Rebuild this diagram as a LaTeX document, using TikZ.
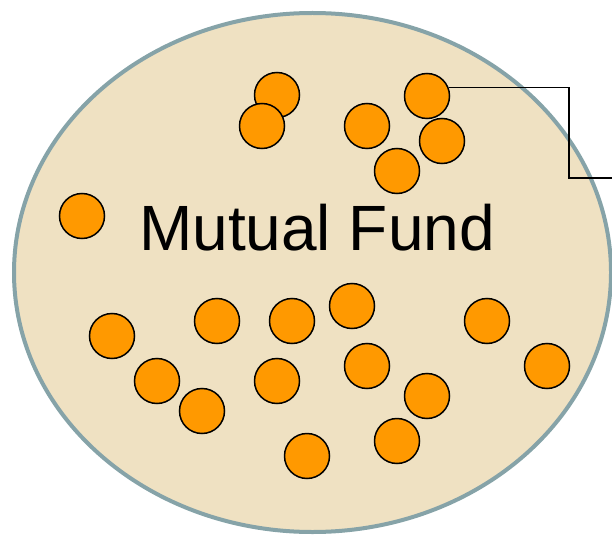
\documentclass[tikz,border=0pt]{standalone}
\usepackage{fontspec}
\setmainfont{Liberation Sans}
\usepackage{tikz}
\usetikzlibrary{
  	shapes.geometric,
  	positioning,
  	calc
  }
\definecolor{sand}{RGB}{239,225,194}
\definecolor{rim}{RGB}{134,163,168}
\definecolor{coin}{RGB}{255,153,0}

\begin{document}
\begin{tikzpicture}[x=1pt, y=-1pt,
	stock/.style={circle, draw=black, line width=1.5pt, fill=coin, minimum size=45pt, inner sep=0pt}]
	\useasboundingbox (0,0) rectangle (612,537);
	\node[ellipse, draw=rim, line width=4pt, fill=sand, minimum width=597pt, minimum height=519pt] (fund) at (312.5,272.5) {};
	\node[anchor=base, font=\fontsize{64}{70}\selectfont] (Flab) at (317,250) {Mutual Fund};
%
	\node[stock] (Sa) at (277,95) {};
	\node[stock] (Sb) at (262,126) {};
	\node[stock] (Sc) at (367,126) {};
	\node[stock] (Sd) at (427,96) {};
	\node[stock] (Se) at (442,141) {};
	\node[stock] (Sf) at (397,171) {};
	\node[stock] (Sg) at (82,216) {};
%
	\node[stock] (Sh) at (112,336) {};
	\node[stock] (Si) at (217,321) {};
	\node[stock] (Sj) at (292,321) {};
	\node[stock] (Sk) at (352,306) {};
	\node[stock] (Sl) at (487,321) {};
	\node[stock] (Sm) at (157,381) {};
	\node[stock] (Sn) at (277,381) {};
	\node[stock] (So) at (367,366) {};
	\node[stock] (Sp) at (547,366) {};
	\node[stock] (Sq) at (202,411) {};
	\node[stock] (Sr) at (427,396) {};
	\node[stock] (Ss) at (397,441) {};
	\node[stock] (St) at (307,456) {};
%
	\coordinate (bend) at (569,178);
	\coordinate (out) at (612,178);
	\draw[line width=1.5pt] (Sd.21) -| (bend) -- (out);
\end{tikzpicture}
\end{document}
